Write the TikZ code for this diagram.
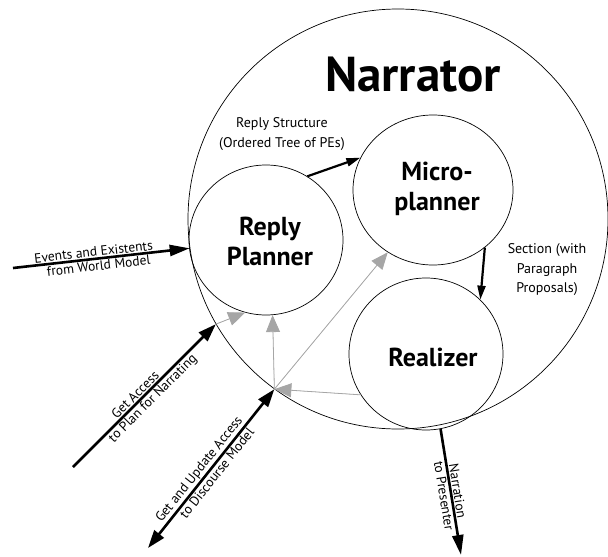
\documentclass[tikz,border=0pt]{standalone}
\usepackage{fontspec}
\setmainfont{PT Sans}
\usetikzlibrary{arrows.meta,shapes.geometric}
\begin{document}
\begin{tikzpicture}[x=1pt,y=-1pt,
  ring/.style={draw, line width=0.7pt, inner sep=0pt},
  title/.style={font=\fontsize{26}{30}\selectfont\bfseries, align=center},
  lbl/.style={font=\fontsize{14}{19.5}\selectfont, align=center},
  slbl/.style={font=\fontsize{13.5}{15}\selectfont, sloped, inner sep=1pt},
  thick arrow/.style={line width=2.6pt, -{Triangle[length=20pt,width=11pt]}},
  mid arrow/.style={line width=2.2pt, -{Triangle[length=14pt,width=8pt]}},
  gray arrow/.style={line width=0.8pt, draw=black!35, fill=black!45, -{Triangle[length=17pt,width=14pt]}}
]
\useasboundingbox (0,0) rectangle (608,557);
% circles
\node[ring, circle, minimum size=420pt] (N) at (398,219) {};
\node[font=\fontsize{49}{52}\selectfont\bfseries] (Nt) at (413,75) {Narrator};
\node[ring, ellipse, minimum width=154pt, minimum height=150pt] (RP) at (266,240) {};
\node[title] (RPt) at (270,241) {Reply\\Planner};
\node[ring, ellipse, minimum width=160pt, minimum height=150pt] (MP) at (433,190) {};
\node[title] (MPt) at (437,189) {Micro-\\planner};
\node[ring, ellipse, minimum width=154pt, minimum height=152pt] (RL) at (426,354) {};
\node[title] (RLt) at (433,357) {Realizer};
% labels inside
\node[lbl] (rs) at (282,134) {Reply Structure\\(Ordered Tree of PEs)};
\node[lbl] (sec) at (547,270) {Section (with\\Paragraph\\Proposals)};
% coordinates
\coordinate (ev) at (13,268);
\coordinate (ga) at (73,467);
\coordinate (gu) at (148,548);
\coordinate (np) at (461,555);
\coordinate (hub) at (N.234.7);
\coordinate (gat) at (N.210.5);
% black arrows
\draw[thick arrow] (ev) -- node[slbl, above, pos=0.46] (evl1) {Events and Existents} node[slbl, below, pos=0.48] (evl2) {from World Model} (N.188.5);
\draw[mid arrow] (RP.57.8) -- (MP.156.9);
\draw[mid arrow] (MP.-48.7) -- (RL.45.5);
\draw[thick arrow] (RL.-79) -- node[slbl, above, pos=0.5] (nl1) {Narration} node[slbl, below, pos=0.52] (nl2) {to Presenter} (np);
\draw[thick arrow, -{Triangle[length=18pt,width=12pt]}] (ga) -- node[slbl, above, pos=0.47] (gal1) {Get Access} node[slbl, below, pos=0.52] (gal2) {to Plan for Narrating} (gat);
\draw[thick arrow, {Triangle[length=18pt,width=12pt]}-{Triangle[length=18pt,width=12pt]}] (gu) -- node[slbl, above, pos=0.46] (gul1) {Get and Update Access} node[slbl, below, pos=0.5] (gul2) {to Discourse Model} (hub);
% gray arrows
\draw[gray arrow] (gat) -- (RP.254.2);
\draw[gray arrow] (hub) -- (RP.-85.4);
\draw[gray arrow] (hub) -- (MP.234.7);
\draw[gray arrow] (RL.212.6) -- (hub);
\end{tikzpicture}
\end{document}
